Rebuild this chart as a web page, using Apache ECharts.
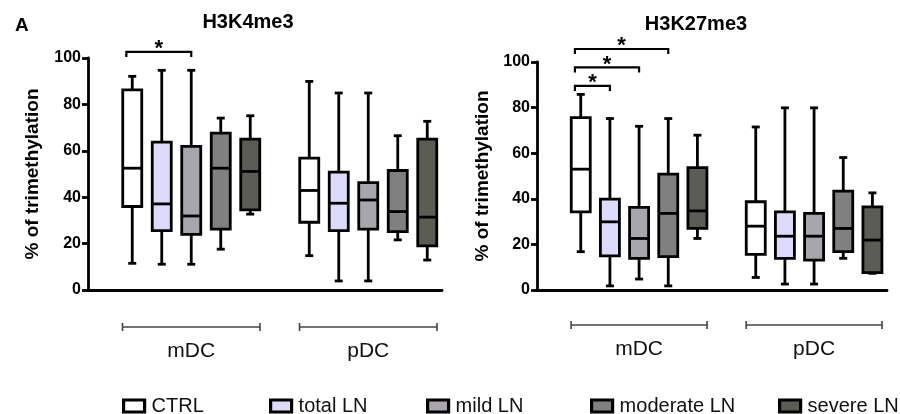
<!DOCTYPE html>
<html>
<head>
<meta charset="utf-8">
<script src="https://cdn.jsdelivr.net/npm/echarts@6/dist/echarts.min.js"></script>
<style>
  html, body { margin: 0; padding: 0; background: #fff; }
  #chart { width: 900px; height: 414px; }
</style>
</head>
<body>
<div id="chart"></div>
<script>
// ---------------- data ----------------
const groups = ['CTRL', 'total LN', 'mild LN', 'moderate LN', 'severe LN'];
const cellTypes = ['mDC', 'pDC'];
// 12 slots on the x axis: empty, 5 mDC boxes, empty, 5 pDC boxes
const slots = ['gap0'].concat(groups.map(g => 'mDC ' + g), ['gap1'], groups.map(g => 'pDC ' + g));

// five-number summaries: [min, q1, median, q3, max]
const k4me3_mDC = [
  [11.5, 36.0, 52.5, 86.3, 92.1],
  [11.1, 25.6, 37.1, 63.7, 94.7],
  [11.1, 24.0, 31.9, 61.9, 94.7],
  [17.6, 26.2, 52.5, 67.6, 74.1],
  [32.7, 34.5, 51.1, 65.0, 75.1]
];
const k4me3_pDC = [
  [14.8, 29.2, 42.9, 56.8, 89.9],
  [3.9, 25.6, 37.4, 50.8, 84.9],
  [3.9, 26.2, 38.8, 46.3, 84.9],
  [21.6, 25.2, 33.8, 51.5, 66.5],
  [12.9, 19.0, 31.4, 65.0, 72.7]
];
const k27me3_mDC = [
  [16.8, 34.3, 53.0, 75.6, 85.8],
  [1.8, 15.0, 29.9, 39.9, 75.2],
  [4.8, 13.9, 22.6, 36.2, 71.8],
  [1.8, 14.6, 33.6, 50.8, 75.2],
  [22.6, 27.0, 34.7, 53.7, 67.9]
];
const k27me3_pDC = [
  [5.5, 15.6, 28.0, 38.7, 71.5],
  [2.6, 13.9, 23.6, 34.3, 79.9],
  [2.6, 13.1, 23.6, 33.6, 79.9],
  [13.9, 16.8, 27.0, 43.4, 58.1],
  [7.3, 7.6, 21.9, 36.5, 42.6]
];
// significance brackets: [from slot, to slot]
const k4me3_sig = [[1, 3]];
const k27me3_sig = [[1, 2], [1, 3], [1, 4]];
const yTicks = [0, 20, 40, 60, 80, 100];

// ---------------- styles ----------------
const fills = ['#ffffff', '#dcdcfa', '#a8a5ad', '#808080', '#5b5c53'];
const FONT = '"Liberation Sans", Arial, sans-serif';
const legendLeft = [122, 269, 426, 590, 778];

const panels = [
  { title: 'H3K4me3', mDC: k4me3_mDC, pDC: k4me3_pDC, sig: k4me3_sig, sigBase: 102.6, sigStep: 8,
    grid: { left: 88, top: 58, width: 354, height: 232 }, titleX: 248, titleY: 22, nameGap: 46, groupGap: 37 },
  { title: 'H3K27me3', mDC: k27me3_mDC, pDC: k27me3_pDC, sig: k27me3_sig, sigBase: 89.5, sigStep: 8.1,
    grid: { left: 537, top: 62, width: 350, height: 228 }, titleX: 696, titleY: 24, nameGap: 45, groupGap: 35 }
];

const LW = 2.8;
const ln = { stroke: '#000', lineWidth: LW };

function renderBox(params, api) {
  const x = api.value(0);
  const lo = api.value(1), q1 = api.value(2), med = api.value(3), q3 = api.value(4), hi = api.value(5);
  const cx = api.coord([x, 0])[0];
  const y = v => api.coord([x, v])[1];
  const hw = 9.5, cw = 4;
  return {
    type: 'group',
    children: [
      { type: 'line', shape: { x1: cx, y1: y(hi), x2: cx, y2: y(q3) }, style: ln },
      { type: 'line', shape: { x1: cx - cw, y1: y(hi), x2: cx + cw, y2: y(hi) }, style: ln },
      { type: 'line', shape: { x1: cx, y1: y(q1), x2: cx, y2: y(lo) }, style: ln },
      { type: 'line', shape: { x1: cx - cw, y1: y(lo), x2: cx + cw, y2: y(lo) }, style: ln },
      { type: 'rect', shape: { x: cx - hw, y: y(q3), width: hw * 2, height: y(q1) - y(q3) },
        style: { fill: api.visual('color'), stroke: '#000', lineWidth: LW } },
      { type: 'line', shape: { x1: cx - hw, y1: y(med), x2: cx + hw, y2: y(med) }, style: ln }
    ]
  };
}

function sigRenderer(panel) {
  return function (params, api) {
    const band = api.size([1, 0])[0];
    const x1 = api.coord([api.value(0), 0])[0] - 0.2 * band;
    const x2 = api.coord([api.value(1), 0])[0];
    const yy = api.coord([api.value(0), panel.sigBase + panel.sigStep * params.dataIndex])[1];
    return {
      type: 'group',
      children: [
        { type: 'polyline', shape: { points: [[x1, yy + 5], [x1, yy], [x2, yy], [x2, yy + 5]] },
          style: { stroke: '#000', lineWidth: 2.2, fill: null } },
        { type: 'text', style: { x: (x1 + x2) / 2, y: yy - 3, text: '*', fill: '#000',
          font: 'bold 22px ' + FONT, align: 'center', verticalAlign: 'middle' } }
      ]
    };
  };
}

function groupRenderer(panel) {
  return function (params, api) {
    const band = api.size([1, 0])[0];
    const x1 = api.coord([api.value(0), 0])[0] - 0.33 * band;
    const x2 = api.coord([api.value(1), 0])[0] + 0.33 * band;
    const y0 = api.coord([api.value(0), 0])[1] + panel.groupGap;
    const st = { stroke: '#444', lineWidth: 1.6 };
    return {
      type: 'group',
      children: [
        { type: 'line', shape: { x1: x1, y1: y0, x2: x2, y2: y0 }, style: st },
        { type: 'line', shape: { x1: x1, y1: y0 - 4, x2: x1, y2: y0 + 4 }, style: st },
        { type: 'line', shape: { x1: x2, y1: y0 - 4, x2: x2, y2: y0 + 4 }, style: st },
        { type: 'text', style: { x: (x1 + x2) / 2, y: y0 + 24, text: cellTypes[params.dataIndex], fill: '#111',
          font: '21px ' + FONT, align: 'center', verticalAlign: 'middle' } }
      ]
    };
  };
}

const grid = [], xAxis = [], yAxis = [], series = [], graphic = [];

graphic.push({ type: 'text', x: 15, y: 26, style: { text: 'A', font: 'bold 19px ' + FONT, fill: '#000',
  align: 'left', verticalAlign: 'middle' } });

panels.forEach((p, pi) => {
  grid.push(p.grid);
  graphic.push({ type: 'text', x: p.titleX, y: p.titleY, style: { text: p.title, font: 'bold 20px ' + FONT,
    fill: '#000', align: 'center', verticalAlign: 'middle' } });
  xAxis.push({
    type: 'category', gridIndex: pi, data: slots, boundaryGap: true,
    axisLine: { lineStyle: { color: '#000', width: LW } },
    axisTick: { alignWithLabel: true, interval: 0, length: 6, lineStyle: { color: '#000', width: LW } },
    axisLabel: { show: false, interval: 0 },
    splitLine: { show: false }
  });
  yAxis.push({
    type: 'value', gridIndex: pi, min: yTicks[0], max: yTicks[yTicks.length - 1], interval: yTicks[1] - yTicks[0],
    name: '% of trimethylation', nameLocation: 'middle', nameGap: p.nameGap,
    nameTextStyle: { fontSize: 19, fontWeight: 'bold', color: '#000', fontFamily: FONT },
    axisLine: { show: true, lineStyle: { color: '#000', width: LW } },
    axisTick: { show: true, length: 6, lineStyle: { color: '#000', width: LW } },
    axisLabel: { fontSize: 16, fontWeight: 'bold', color: '#000', fontFamily: FONT, margin: 7 },
    splitLine: { show: false }
  });
  groups.forEach((g, gi) => {
    series.push({
      type: 'custom', name: g, xAxisIndex: pi, yAxisIndex: pi,
      itemStyle: { color: fills[gi] },
      encode: { x: 0, y: [1, 2, 3, 4, 5] },
      renderItem: renderBox,
      data: [[1 + gi].concat(p.mDC[gi]), [7 + gi].concat(p.pDC[gi])],
      silent: true
    });
  });
  series.push({
    type: 'custom', xAxisIndex: pi, yAxisIndex: pi, silent: true,
    encode: { x: 0, y: 1 },
    renderItem: sigRenderer(p),
    data: p.sig.map(s => [s[0], s[1]])
  });
  series.push({
    type: 'custom', xAxisIndex: pi, yAxisIndex: pi, silent: true,
    encode: { x: 0, y: 1 },
    renderItem: groupRenderer(p),
    data: [[1, 5], [7, 11]]
  });
});

const legend = groups.map((g, gi) => ({
  data: [g], left: legendLeft[gi], top: 396, padding: 0,
  icon: 'rect', itemWidth: 21, itemHeight: 12, itemGap: 0,
  itemStyle: { borderColor: '#000', borderWidth: 3.2 },
  textStyle: { fontSize: 20, color: '#111', fontFamily: FONT, padding: [0, 0, 0, 2] },
  selectedMode: false
}));

const chart = echarts.init(document.getElementById('chart'));
chart.setOption({
  backgroundColor: '#fff',
  animation: false,
  grid, xAxis, yAxis, series, legend, graphic
});
</script>
</body>
</html>
